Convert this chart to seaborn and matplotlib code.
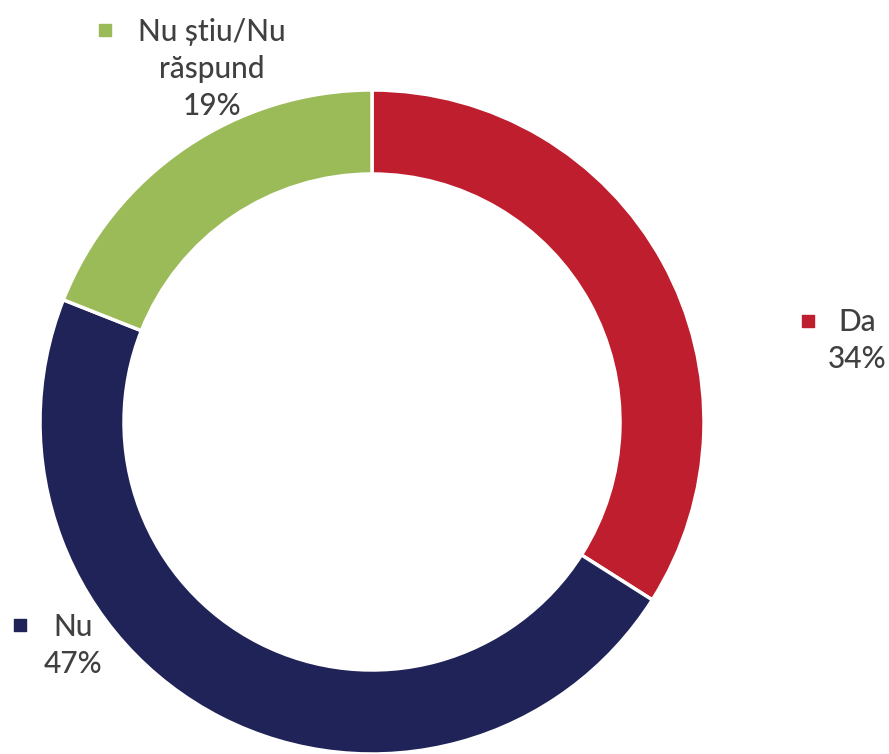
import matplotlib
matplotlib.use("Agg")
import matplotlib.pyplot as plt
import seaborn as sns

categorii = ["Da", "Nu", "Nu știu/Nu\nrăspund"]
procente = [34, 47, 19]
culori = ["#BE1E2D", "#1F2357", "#9BBB59"]

sns.set_theme(style="white")
plt.rcParams["font.family"] = ["Lato", "DejaVu Sans"]

fig = plt.figure(figsize=(8.89, 7.54), dpi=100)
ax = fig.add_axes([0, 0, 1, 1])

# pixel-like coordinates: donut centre at (372, 422) from top-left
cx, cy = 372, 754 - 422
ax.pie(procente, colors=sns.color_palette(culori), startangle=90, counterclock=False,
       radius=332, center=(cx, cy),
       wedgeprops=dict(width=84, edgecolor="white", linewidth=2.5))

ax.set_xlim(0, 889)
ax.set_ylim(0, 754)
ax.set_aspect("equal")
ax.axis("off")

txt = "#404040"
fs = 21.5
# text block centre and square marker, (x, y from top)
pozitii = {
    "Da": ((857, 322), (808, 321)),
    "Nu": ((73, 627), (20, 625)),
    "Nu știu/Nu\nrăspund": ((212, 32), (105, 30)),
}
for cat, pct, col in zip(categorii, procente, culori):
    (tx, ty), (mx, my) = pozitii[cat]
    lines = cat.split("\n") + [f"{pct}%"]
    for i, line in enumerate(lines):
        ax.text(tx, 754 - (ty + i * 37), line, ha="center", va="center",
                fontsize=fs, color=txt, fontweight="medium")
    ax.scatter([mx], [754 - my], marker="s", s=70, color=col, zorder=5)

fig.savefig("out.png", dpi=100, facecolor="white")
